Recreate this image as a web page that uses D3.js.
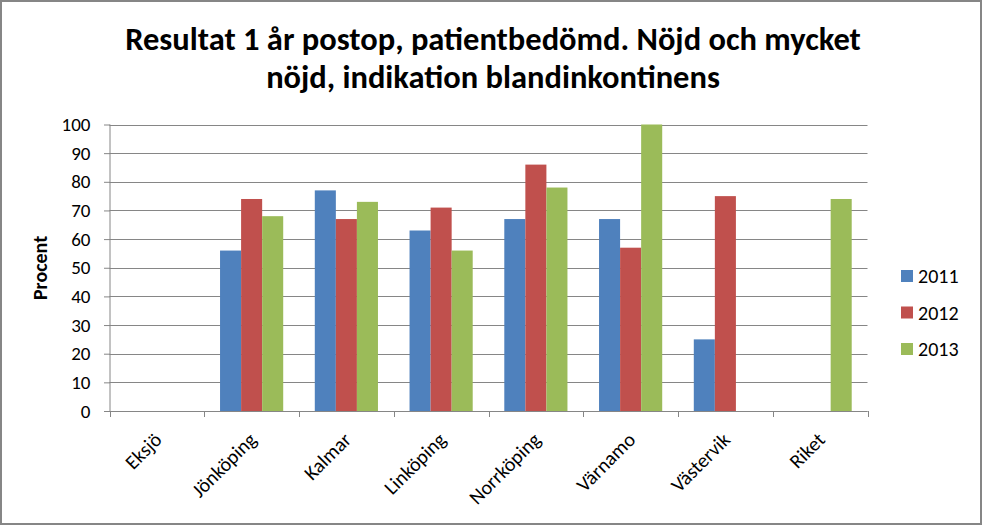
<!DOCTYPE html>
<html><head><meta charset="utf-8">
<script src="https://cdn.jsdelivr.net/npm/d3@7"></script>
<style>body{margin:0;background:#fff}svg{display:block}</style>
</head><body>
<svg id="c" width="982" height="525"></svg>
<script>
const categories = ["Eksjö","Jönköping","Kalmar","Linköping","Norrköping","Värnamo","Västervik","Riket"];
const seriesNames = ["2011","2012","2013"];
const values2011 = [null,56,77,63,67,67,25,null];
const values2012 = [null,74,67,71,86,57,75,null];
const values2013 = [null,68,73,56,78,100,null,74];
const colors = ["#4F81BD","#C0504D","#9BBB59"];
const yTicks = [0,10,20,30,40,50,60,70,80,90,100];
const titleLines = ["Resultat 1 år postop, patientbedömd. Nöjd och mycket","nöjd, indikation blandinkontinens"];
const yTitle = "Procent";

const series = [values2011, values2012, values2013];
const font = "Carlito, Calibri, 'Liberation Sans Narrow', 'Open Sans', sans-serif";
const svg = d3.select("#c");
svg.append("rect").attr("x",1).attr("y",1).attr("width",980).attr("height",523)
  .attr("fill","#fff").attr("stroke","#868686").attr("stroke-width",2);

const L=109.5, R=867.5, T=124.5, B=411;
const x = d3.scaleBand().domain(categories).range([L,R]).paddingInner(0).paddingOuter(0);
const y = d3.scaleLinear().domain([0,100]).range([B,T]);
const bw = x.bandwidth()/(3+1.5);
const inner = d3.scaleBand().domain(seriesNames).range([x.bandwidth()/2-1.5*bw, x.bandwidth()/2+1.5*bw]);

// gridlines
svg.append("g").selectAll("line").data(yTicks).join("line")
  .attr("x1",L).attr("x2",R).attr("y1",d=>Math.round(y(d))+0.5).attr("y2",d=>Math.round(y(d))+0.5)
  .attr("stroke","#868686").attr("stroke-width",1);

// bars
series.forEach((vals,si)=>{
  svg.append("g").selectAll("rect").data(categories.map((c,i)=>({c,v:vals[i]})).filter(d=>d.v!=null))
    .join("rect")
    .attr("x",d=>x(d.c)+inner(seriesNames[si]))
    .attr("width",inner.bandwidth())
    .attr("y",d=>y(d.v)).attr("height",d=>B-y(d.v))
    .attr("fill",colors[si]);
});

// y axis
const ya = svg.append("g").attr("transform",`translate(${L},0)`)
  .call(d3.axisLeft(y).tickValues(yTicks).tickSize(6).tickPadding(13));
ya.select(".domain").attr("stroke","#868686").attr("d",`M0.5,${T}V${B}`);
ya.selectAll(".tick line").attr("stroke","#868686").attr("x1",0.5).attr("x2",-5.5);
ya.selectAll("text").attr("font-family",font).attr("font-size",19).attr("fill","#000");

// x axis
const xa = svg.append("g").attr("transform",`translate(0,${B})`);
xa.append("line").attr("x1",L).attr("x2",R).attr("y1",0.5).attr("y2",0.5).attr("stroke","#868686");
const bounds = categories.map(c=>x(c)).concat([R]);
xa.selectAll("line.t").data(bounds).join("line").attr("class","t")
  .attr("x1",d=>Math.round(d)+0.5).attr("x2",d=>Math.round(d)+0.5).attr("y1",0).attr("y2",6).attr("stroke","#868686");
xa.selectAll("text").data(categories).join("text")
  .attr("transform",d=>`translate(${x(d)+x.bandwidth()/2+6},${30}) rotate(-45)`)
  .attr("text-anchor","end").attr("font-family",font).attr("font-size",20).attr("fill","#000")
  .text(d=>d);

// title
svg.append("g").selectAll("text").data(titleLines).join("text")
  .attr("x",493).attr("y",(d,i)=>50+i*38).attr("text-anchor","middle")
  .attr("font-family",font).attr("font-weight","bold").attr("font-size",32.5).attr("fill","#000")
  .text(d=>d);

// y title
svg.append("text").attr("transform","translate(47,268) rotate(-90)").attr("text-anchor","middle")
  .attr("font-family",font).attr("font-weight","bold").attr("font-size",20).text(yTitle);

// legend
const lg = svg.append("g");
seriesNames.forEach((s,i)=>{
  const yy = 276 + i*36.5;
  lg.append("rect").attr("x",901).attr("y",yy-6).attr("width",12).attr("height",12).attr("fill",colors[i]);
  lg.append("text").attr("x",918).attr("y",yy+7).attr("font-family",font).attr("font-size",20).text(s);
});
</script>
</body></html>
